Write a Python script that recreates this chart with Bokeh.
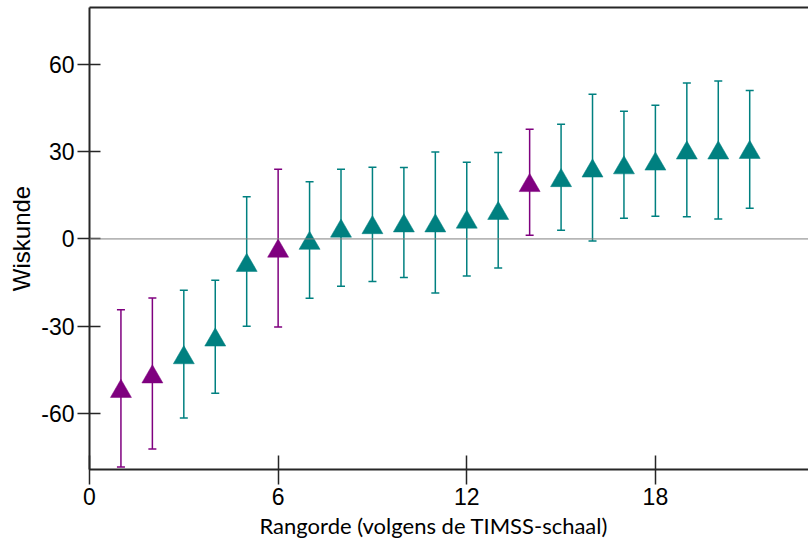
from bokeh.plotting import figure
from bokeh.models import (ColumnDataSource, Range1d, Whisker, TeeHead, Span,
                          FixedTicker, LinearAxis, CustomJSTickFormatter, Title)
from bokeh.embed import file_html
from bokeh.resources import INLINE

# ---- data ----
rank = list(range(1, 22))
score = [-51.5, -46.5, -39.9, -33.8, -8.1, -3.2, -0.5, 3.7, 4.9, 5.5, 5.5,
         6.8, 9.8, 19.4, 21.1, 24.4, 25.5, 26.8, 30.6, 30.6, 30.8]
upper = [-24.4, -20.3, -17.7, -14.2, 14.5, 24.0, 19.7, 24.0, 24.7, 24.6, 29.9,
         26.4, 29.8, 37.8, 39.5, 49.8, 44.0, 46.0, 53.7, 54.4, 51.1]
lower = [-78.5, -72.3, -61.7, -53.1, -30.1, -30.3, -20.4, -16.3, -14.7, -13.3, -18.6,
         -12.8, -10.0, 1.3, 3.0, -0.7, 7.1, 7.8, 7.6, 6.9, 10.6]
highlighted = [1, 2, 6, 14]          # ranks drawn in purple
x_ticks = [0, 6, 12, 18]
y_ticks = [-60, -30, 0, 30, 60]
x_title = "Rangorde (volgens de TIMSS-schaal)"
y_title = "Wiskunde"

TEAL = "#008080"
PURPLE = "#7F007F"
AXIS = "#262626"

def subset(flag):
    idx = [i for i, r in enumerate(rank) if (r in highlighted) == flag]
    return ColumnDataSource(dict(
        x=[rank[i] for i in idx],
        y=[score[i] for i in idx],
        upper=[upper[i] for i in idx],
        lower=[lower[i] for i in idx],
    ))

src_teal = subset(False)
src_purple = subset(True)

Y0, Y1 = -79.4, 79.7
p = figure(width=808, height=545, output_backend="svg", toolbar_location=None,
           x_range=Range1d(0, 22.87), y_range=Range1d(Y0, Y1),
           min_border_left=89, min_border_right=0, min_border_top=7,
           min_border_bottom=76)
p.xaxis.visible = False
p.yaxis.visible = False
p.grid.visible = False
p.outline_line_color = None
p.background_fill_color = "white"
p.border_fill_color = "white"

# marker range: Bokeh centres a triangle on its centroid, Excel on its box
p.extra_y_ranges = {"mk": Range1d(Y0 + 1.0, Y1 + 1.0)}

hyphen = CustomJSTickFormatter(code="return String(tick);")

# axes
yax = LinearAxis(ticker=FixedTicker(ticks=y_ticks), axis_label=y_title,
                 formatter=hyphen)
xax = LinearAxis(ticker=FixedTicker(ticks=x_ticks))
top = LinearAxis(ticker=FixedTicker(ticks=[]))
for ax in (yax, xax, top):
    ax.axis_line_color = AXIS
    ax.axis_line_width = 2
    ax.major_tick_line_color = AXIS
    ax.major_tick_line_width = 1.5
    ax.minor_tick_line_color = None
    ax.major_label_text_font = "Liberation Sans"
    ax.major_label_text_font_size = "23px"
    ax.major_label_text_color = "black"
    ax.axis_label_text_font_style = "normal"
    ax.axis_label_text_color = "black"

yax.major_tick_in = 11
yax.major_tick_out = 12
yax.major_label_standoff = 3
yax.axis_label_standoff = 3
yax.axis_label_text_font = "Liberation Sans"
yax.axis_label_text_font_size = "24px"

xax.major_tick_in = 14
xax.major_tick_out = 15
xax.major_label_standoff = 3

top.major_tick_in = 0
top.major_tick_out = 0
top.major_label_text_font_size = "0px"
top.major_label_standoff = 0

p.add_layout(yax, "left")
p.add_layout(xax, "below")
p.add_layout(top, "above")

# x-axis title, placed like the reference (left of the frame centre)
p.add_layout(Title(text=x_title, align="left", offset=170, standoff=4,
                   text_font="Lato", text_font_size="22px",
                   text_font_style="normal", text_color="black"), "below")

# zero line
p.add_layout(Span(location=0, dimension="width", line_color="#808080", line_width=1))

# error bars and markers
for src, col in ((src_teal, TEAL), (src_purple, PURPLE)):
    w = Whisker(base="x", upper="upper", lower="lower", source=src,
                line_color=col, line_width=1.5,
                upper_head=TeeHead(size=8, line_color=col, line_width=1.5),
                lower_head=TeeHead(size=8, line_color=col, line_width=1.5))
    p.add_layout(w)
    p.scatter("x", "y", source=src, marker="triangle", size=21,
              fill_color=col, line_color=col, line_width=0.5,
              y_range_name="mk")

open("out.html", "w").write(file_html(p, INLINE))
